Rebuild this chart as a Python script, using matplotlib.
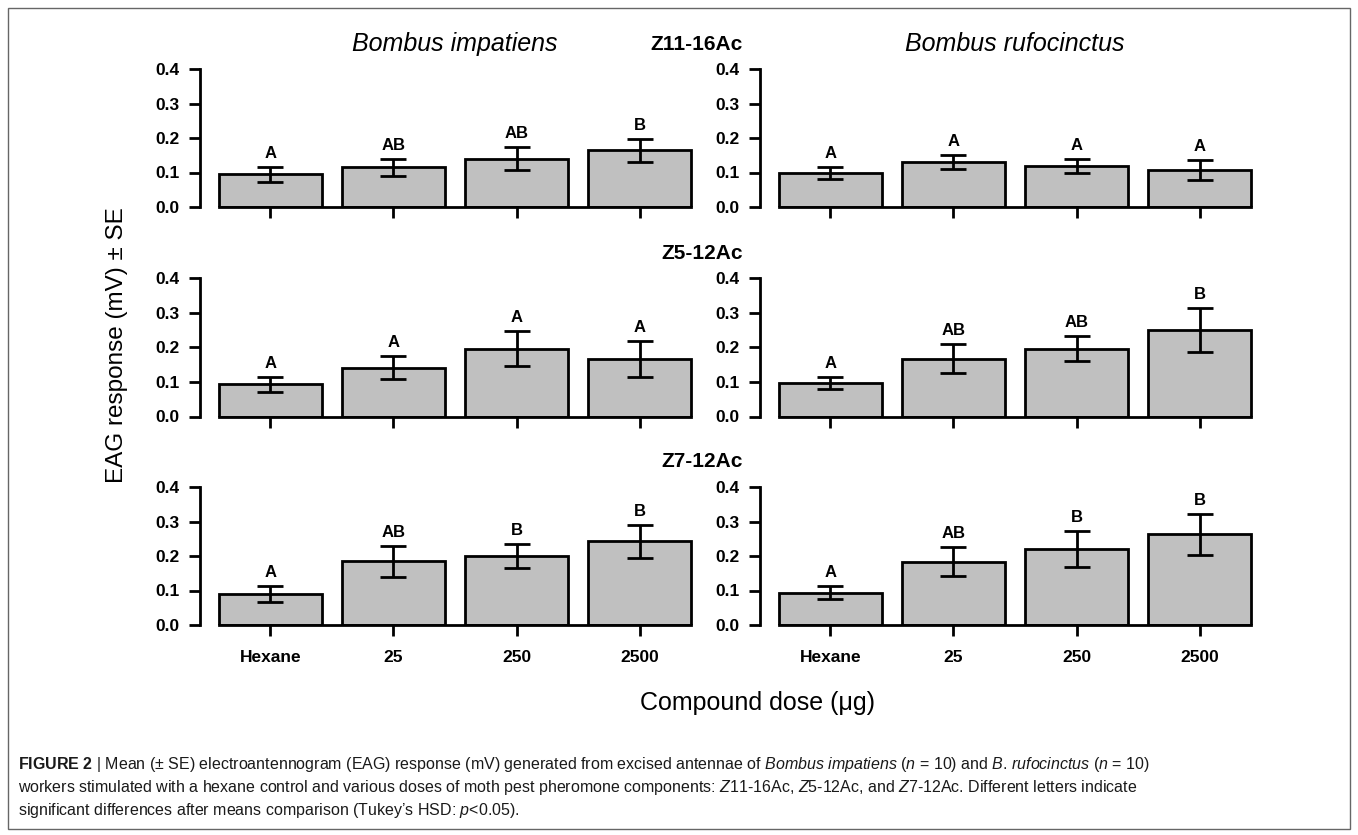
import matplotlib
matplotlib.use("Agg")
import matplotlib.pyplot as plt
import numpy as np
from matplotlib import font_manager
from matplotlib.patches import Rectangle

# ---- data ----
doses = ["Hexane", "25", "250", "2500"]
compounds = ["Z11-16Ac", "Z5-12Ac", "Z7-12Ac"]
species = ["Bombus impatiens", "Bombus rufocinctus"]

imp_z11_mean = [0.095, 0.115, 0.140, 0.164]
imp_z11_se = [0.022, 0.025, 0.034, 0.034]
imp_z11_letters = ["A", "AB", "AB", "B"]

ruf_z11_mean = [0.099, 0.130, 0.120, 0.108]
ruf_z11_se = [0.018, 0.021, 0.020, 0.029]
ruf_z11_letters = ["A", "A", "A", "A"]

imp_z5_mean = [0.093, 0.142, 0.197, 0.167]
imp_z5_se = [0.021, 0.032, 0.052, 0.052]
imp_z5_letters = ["A", "A", "A", "A"]

ruf_z5_mean = [0.098, 0.167, 0.197, 0.251]
ruf_z5_se = [0.017, 0.042, 0.035, 0.063]
ruf_z5_letters = ["A", "AB", "AB", "B"]

imp_z7_mean = [0.090, 0.185, 0.200, 0.243]
imp_z7_se = [0.023, 0.045, 0.036, 0.048]
imp_z7_letters = ["A", "AB", "B", "B"]

ruf_z7_mean = [0.094, 0.184, 0.220, 0.263]
ruf_z7_se = [0.020, 0.043, 0.053, 0.059]
ruf_z7_letters = ["A", "AB", "B", "B"]

panels = [
    [(imp_z11_mean, imp_z11_se, imp_z11_letters), (ruf_z11_mean, ruf_z11_se, ruf_z11_letters)],
    [(imp_z5_mean, imp_z5_se, imp_z5_letters), (ruf_z5_mean, ruf_z5_se, ruf_z5_letters)],
    [(imp_z7_mean, imp_z7_se, imp_z7_letters), (ruf_z7_mean, ruf_z7_se, ruf_z7_letters)],
]


def has_font(name):
    try:
        font_manager.findfont(name, fallback_to_default=False)
        return True
    except ValueError:
        return False


FONT = "Liberation Sans"
CAP_FONT = "Liberation Sans Narrow" if has_font("Liberation Sans Narrow") else FONT

plt.rcParams["font.family"] = [FONT, "DejaVu Sans"]
plt.rcParams["mathtext.fontset"] = "custom"
plt.rcParams["mathtext.rm"] = CAP_FONT
plt.rcParams["mathtext.it"] = CAP_FONT + ":italic"
plt.rcParams["mathtext.bf"] = CAP_FONT + ":bold"

W, H = 1358, 835
fig = plt.figure(figsize=(W / 100, H / 100), dpi=100)

# layout in pixels (measured on the reference)
col_x = [200, 760]
ax_w = 510
row_base = [207, 416.5, 625]
px_per_unit = 345
ymax = 0.416
bar_w = 1 / 1.2
x = np.arange(len(doses))

for r, row in enumerate(panels):
    for c, (mean, se, letters) in enumerate(row):
        h = ymax * px_per_unit
        ax = fig.add_axes([col_x[c] / W, 1 - row_base[r] / H, ax_w / W, h / H])
        ax.bar(x, mean, width=bar_w, color="#c0c0c0", edgecolor="black",
               linewidth=2, yerr=se, capsize=9.5,
               error_kw=dict(elinewidth=2, capthick=2, ecolor="black", zorder=3))
        for i, lab in enumerate(letters):
            ax.annotate(lab, (x[i], mean[i] + se[i]), xytext=(0, 6.5),
                        textcoords="offset points", ha="center", va="baseline",
                        fontsize=12, fontweight="bold")
        ax.set_xlim(-0.57, 3.57)
        ax.set_ylim(0, ymax)
        for s in ("top", "right"):
            ax.spines[s].set_visible(False)
        ax.spines["left"].set_bounds(0, 0.4)
        ax.spines["bottom"].set_bounds(x[0] - bar_w / 2, x[-1] + bar_w / 2)
        for s in ("left", "bottom"):
            ax.spines[s].set_linewidth(2)
        ax.set_yticks([0, 0.1, 0.2, 0.3, 0.4])
        ax.set_yticklabels(["0.0", "0.1", "0.2", "0.3", "0.4"], fontweight="bold", fontsize=12.5)
        ax.set_xticks(x)
        if r == 2:
            ax.set_xticklabels(doses, fontweight="bold", fontsize=12.5)
        else:
            ax.set_xticklabels([])
        ax.tick_params(axis="y", length=8, width=2, pad=7)
        ax.tick_params(axis="x", length=8, width=2, pad=10)

# titles
for c, name in enumerate(species):
    fig.text((col_x[c] + ax_w / 2) / W, 1 - 44 / H, name, ha="center", va="center",
             fontsize=18, style="italic")
for r, comp in enumerate(compounds):
    fig.text(743 / W, 1 - (row_base[r] - 0.4 * px_per_unit - 25) / H, comp,
             ha="right", va="center", fontsize=15, fontweight="bold")

fig.text(117 / W, 1 - 345 / H, "EAG response (mV) \u00b1 SE", rotation=90,
         ha="center", va="center", fontsize=17.5)
fig.text(757 / W, 1 - 703 / H, "Compound dose (\u03bcg)", ha="center", va="center", fontsize=18)

# caption
caption = [
    r"$\mathbf{FIGURE\ 2}$ | Mean (± SE) electroantennogram (EAG) response (mV) generated from excised antennae of "
    r"$\mathit{Bombus}$ $\mathit{impatiens}$ ($\mathit{n}$ = 10) and $\mathit{B}$. $\mathit{rufocinctus}$ ($\mathit{n}$ = 10)",
    r"workers stimulated with a hexane control and various doses of moth pest pheromone components: "
    r"$\mathit{Z}$11-16Ac, $\mathit{Z}$5-12Ac, and $\mathit{Z}$7-12Ac. Different letters indicate",
    r"significant differences after means comparison (Tukey’s HSD: $\mathit{p}$<0.05).",
]
for k, line in enumerate(caption):
    fig.text(18 / W, 1 - (765 + 22.5 * k) / H, line, ha="left", va="center",
             fontsize=11.5, family=CAP_FONT, color="#1a1a1a")

# frame around figure and caption
fig.patches.append(Rectangle((8 / W, 1 - 829 / H), (1350 - 8) / W, (829 - 8) / H,
                             transform=fig.transFigure, fill=False,
                             edgecolor="#666666", linewidth=1))

fig.savefig("out.png", dpi=100)
